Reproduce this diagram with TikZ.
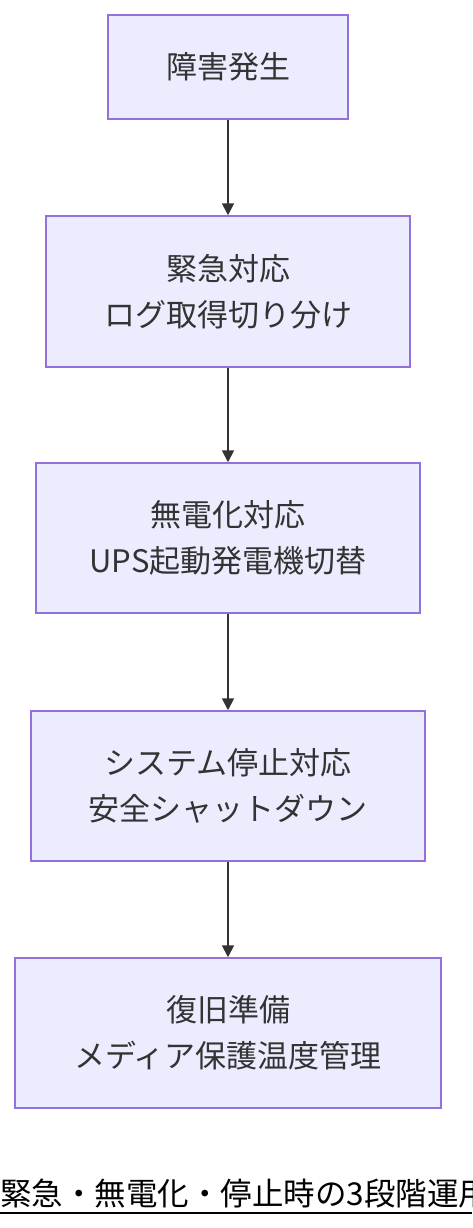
\documentclass[tikz,border=0pt]{standalone}
\usepackage{fontspec}
\setmainfont{Noto Sans CJK JP}
\usetikzlibrary{arrows.meta}
\definecolor{boxfill}{HTML}{ECECFF}
\definecolor{boxline}{HTML}{9370DB}
\definecolor{txt}{HTML}{333333}
\tikzset{
  stepbox/.style={draw=boxline, fill=boxfill, line width=1.5pt, align=center,
    text=txt, font=\fontsize{31}{46}\selectfont, inner sep=0pt},
  conn/.style={draw=txt, line width=1.8pt, -{Triangle[length=12pt,width=12pt]}}
}
\begin{document}
\begin{tikzpicture}[x=1pt,y=-1pt]
\useasboundingbox (0,0) rectangle (472,1228);
\node[stepbox, minimum width=240pt, minimum height=104pt] (n1) at (228,67) {障害発生};
\node[stepbox, minimum width=364pt, minimum height=151pt] (n2) at (228,291.5) {緊急対応\\ログ取得切り分け};
\node[stepbox, minimum width=384pt, minimum height=150pt] (n3) at (228,538) {無電化対応\\UPS起動発電機切替};
\node[stepbox, minimum width=394pt, minimum height=150pt] (n4) at (228,786) {システム停止対応\\安全シャットダウン};
\node[stepbox, minimum width=426pt, minimum height=150pt] (n5) at (228,1033) {復旧準備\\メディア保護温度管理};
\draw[conn] (n1) -- (n2);
\draw[conn] (n2) -- (n3);
\draw[conn] (n3) -- (n4);
\draw[conn] (n4) -- (n5);
\begin{scope}
\clip (0,0) rectangle (472,1228);
\node[anchor=base west, inner sep=0pt, font=\fontsize{31.5}{34}\selectfont] (cap) at (0,1205) {緊急・無電化・停止時の3段階運用};
\draw[line width=2pt] (0,1213) -- (472,1213);
\end{scope}
\end{tikzpicture}
\end{document}
